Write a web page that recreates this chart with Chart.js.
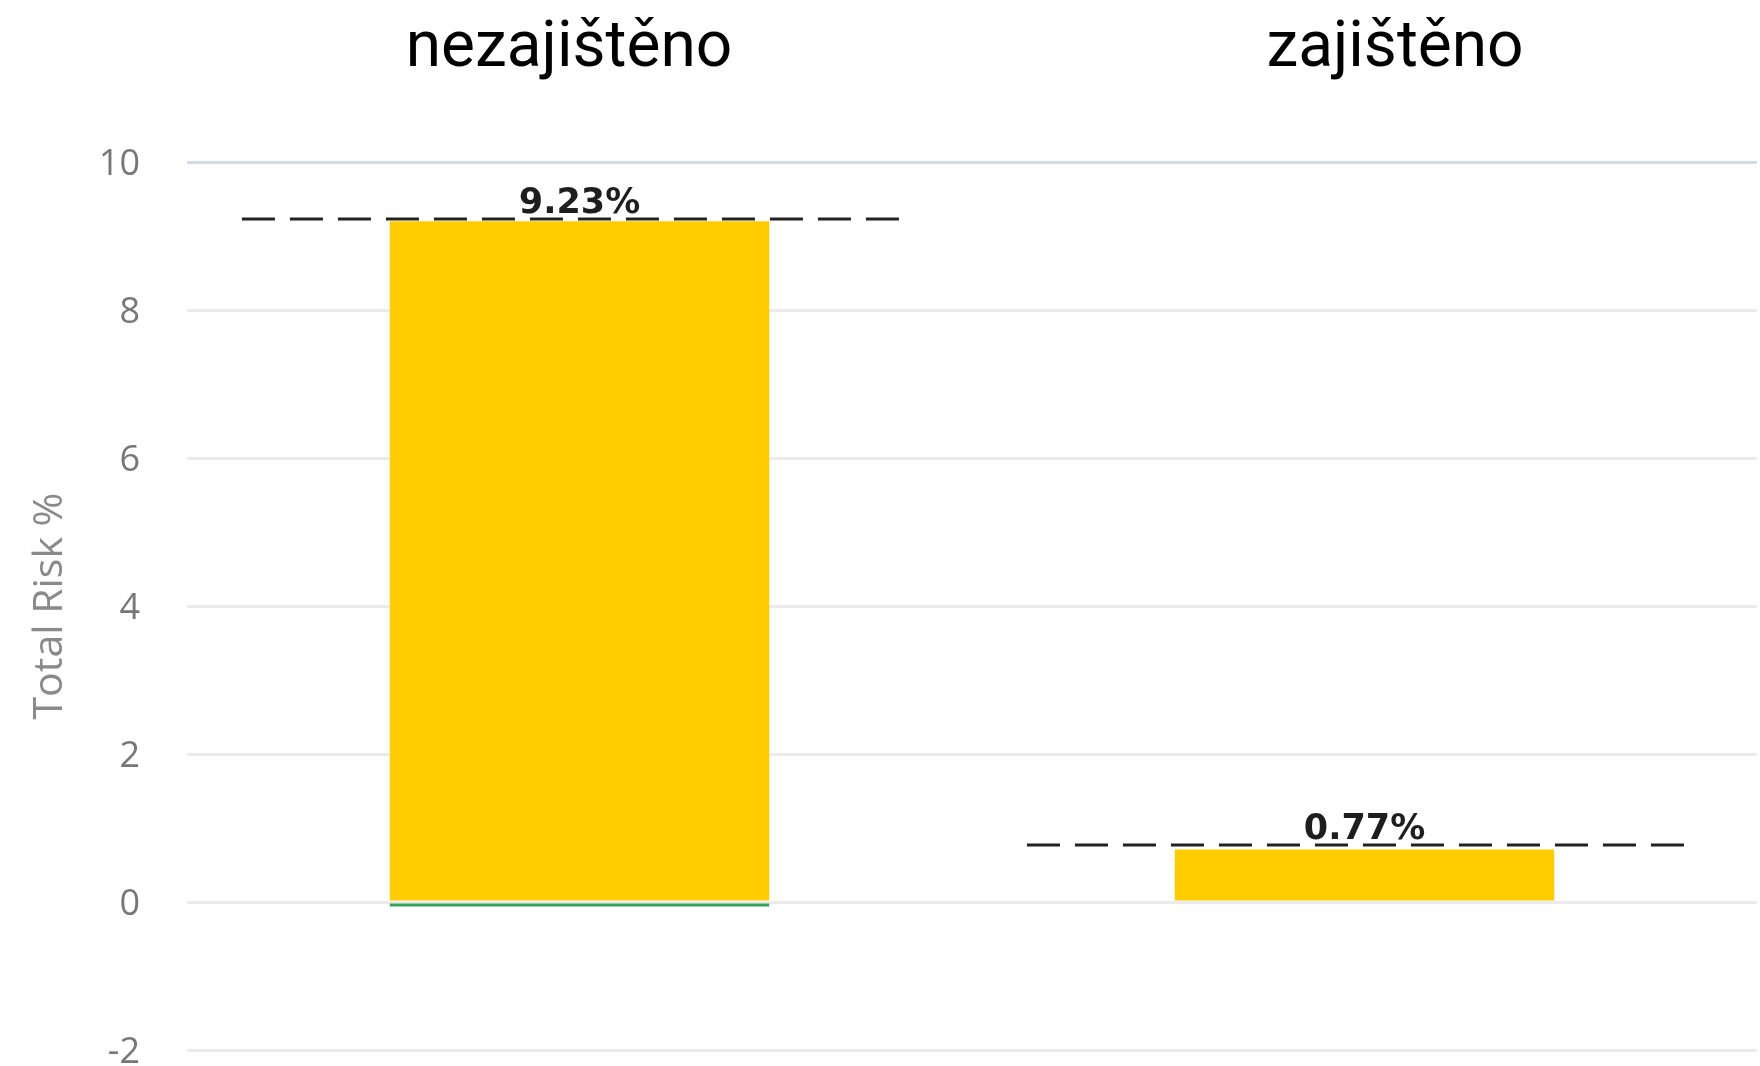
<!DOCTYPE html>
<html>
<head>
<meta charset="utf-8">
<script src="https://cdn.jsdelivr.net/npm/chart.js@4/dist/chart.umd.min.js"></script>
<style>
  html, body { margin: 0; padding: 0; background: #ffffff; }
  #wrap { position: relative; width: 1760px; height: 1066px; }
</style>
</head>
<body>
<div id="wrap"><canvas id="c"></canvas></div>
<script>
// ---- data ----
const categories = ['nezajištěno', 'zajištěno'];
const mainValues = [9.2, 0.71];      // yellow component
const minorValues = [-0.06, 0];      // green component
const totals = [9.23, 0.77];         // dashed total markers / labels
const yTicks = { min: -2, max: 10, step: 2 };
const axisTitle = 'Total Risk %';

// ---- style / layout constants ----
const TITLE_X = [569, 1395];
const TITLE_BASELINE = 66;
const LINE_LEFT = 0.43, LINE_RIGHT = 0.41;

const linePoints = [];
totals.forEach((t, i) => {
  if (i > 0) linePoints.push({ x: i - 0.5, y: null });
  linePoints.push({ x: i - LINE_LEFT, y: t });
  linePoints.push({ x: i + LINE_RIGHT, y: t });
});

const overlay = {
  id: 'overlay',
  afterDatasetsDraw(chart) {
    const ctx = chart.ctx;
    const xs = chart.scales.x, ys = chart.scales.y;
    ctx.save();
    ctx.fillStyle = '#1e1e1e';
    ctx.font = 'bold 35px "DejaVu Sans"';
    ctx.textAlign = 'center';
    ctx.textBaseline = 'alphabetic';
    totals.forEach((t, i) => {
      ctx.fillText(t.toFixed(2) + '%', xs.getPixelForValue(i), ys.getPixelForValue(t) - 6);
    });
    ctx.fillStyle = '#000000';
    ctx.font = '64px Roboto';
    categories.forEach((c, i) => {
      ctx.fillText(c, TITLE_X[i], TITLE_BASELINE);
    });
    ctx.restore();
  }
};

new Chart(document.getElementById('c'), {
  data: {
    labels: categories,
    datasets: [
      {
        type: 'line',
        data: linePoints,
        xAxisID: 'x2',
        yAxisID: 'y',
        borderColor: '#222222',
        borderWidth: 3,
        borderDash: [33, 15],
        borderCapStyle: 'butt',
        pointRadius: 0,
        tension: 0,
        spanGaps: false,
        order: 0
      },
      {
        type: 'bar',
        data: mainValues,
        xAxisID: 'x',
        backgroundColor: '#FFCC00',
        borderWidth: 0,
        grouped: false,
        barPercentage: 0.4834,
        categoryPercentage: 1.0,
        order: 1,
        stack: 's'
      },
      {
        type: 'bar',
        data: minorValues,
        xAxisID: 'x',
        backgroundColor: '#35a35a',
        borderWidth: 0,
        grouped: false,
        barPercentage: 0.4834,
        categoryPercentage: 1.0,
        order: 2,
        stack: 's'
      }
    ]
  },
  options: {
    responsive: true,
    maintainAspectRatio: false,
    animation: false,
    layout: { padding: { top: 162, bottom: 16, right: 3, left: 0 } },
    plugins: { legend: { display: false }, tooltip: { enabled: false } },
    scales: {
      x: { type: 'category', display: false, stacked: true, offset: true },
      x2: { type: 'linear', display: false, min: -0.5, max: 1.5 },
      y: {
        stacked: true,
        min: yTicks.min,
        max: yTicks.max,
        afterFit(scale) {
          scale.width = 187;
          scale.paddingTop = 0;
          scale.paddingBottom = 0;
        },
        border: { display: false },
        grid: {
          drawTicks: false,
          lineWidth: 3,
          color: (ctx) => (ctx.tick && ctx.tick.value === yTicks.max) ? '#d3daee' : '#ebebeb'
        },
        ticks: {
          stepSize: yTicks.step,
          padding: 47,
          labelOffset: 3,
          color: '#777777',
          font: { family: '"Open Sans"', size: 36 }
        },
        title: {
          display: true,
          text: axisTitle,
          color: '#8a8a8a',
          font: { family: '"Open Sans"', size: 41 },
          padding: { top: 26, bottom: 0 }
        }
      }
    }
  },
  plugins: [overlay]
});
</script>
</body>
</html>
